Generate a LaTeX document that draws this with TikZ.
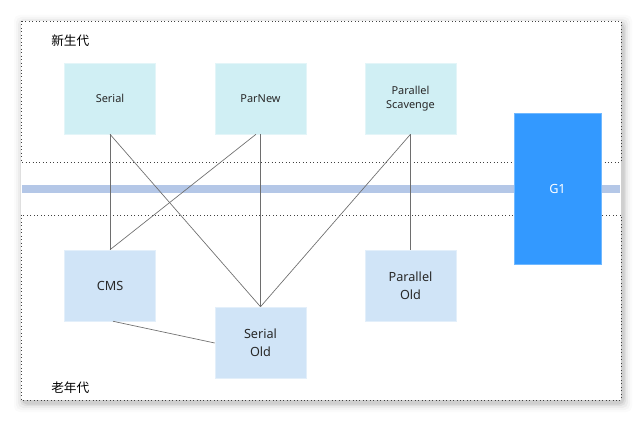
\documentclass[tikz,border=0pt]{standalone}
\usepackage{fontspec}
\setmainfont{Noto Sans}
\newfontfamily\cjk{Noto Sans CJK SC}
\begin{document}
\begin{tikzpicture}[x=0.75pt,y=-0.75pt,
  young/.style={fill=cyanbox,draw=cyanbox!60!white,line width=0.4pt,inner sep=0pt,align=center,text=txt},
  old/.style={fill=bluebox,draw=bluebox!60!white,line width=0.4pt,inner sep=0pt,align=center,text=txt},
  link/.style={draw=linec,line width=0.5pt},
  frame/.style={draw=black!75,dotted,line width=0.6pt},
  lbl/.style={font=\cjk\fontsize{9.5pt}{11pt}\selectfont,text=black,inner sep=0pt}]
\definecolor{cyanbox}{RGB}{208,239,244}
\definecolor{bluebox}{RGB}{208,228,247}
\definecolor{barc}{RGB}{180,199,231}
\definecolor{gonec}{RGB}{51,153,255}
\definecolor{linec}{RGB}{110,110,110}
\definecolor{txt}{RGB}{40,40,40}
\useasboundingbox (0,0) rectangle (643,424);
\fill[white] (0,0) rectangle (643,424);
% shadow
\foreach \i/\o in {9/0.015,7/0.025,5/0.035,3/0.05,1.5/0.07}{
  \fill[black,opacity=\o,rounded corners=4pt] (21-\i+2,21-\i+3) rectangle (621+\i+2,400+\i+3);
}
\fill[white] (21,21) rectangle (621,400);
% frames
\draw[frame] (21,21) rectangle (621,162);
\draw[frame] (21,215) rectangle (621,400);
% bar
\fill[barc] (22,185) rectangle (620,193);
% labels
\node[lbl,anchor=west] (yg) at (51,41) {新生代};
\node[lbl,anchor=west] (og) at (51,388) {老年代};
% boxes
\node[young,minimum width=91*0.75pt,minimum height=71*0.75pt,font=\fontsize{8.2pt}{10pt}\selectfont] (serial) at (110,98.5) {Serial};
\node[young,minimum width=91*0.75pt,minimum height=71*0.75pt,font=\fontsize{8.2pt}{10pt}\selectfont] (parnew) at (260.5,98.5) {ParNew};
\node[young,minimum width=91*0.75pt,minimum height=71*0.75pt,font=\fontsize{8.2pt}{11pt}\selectfont] (ps) at (410.5,98.5) {Parallel\\Scavenge};
\node[fill=gonec,draw=gonec!70!white,minimum width=87*0.75pt,minimum height=151*0.75pt,inner sep=0pt,text=white,font=\fontsize{9.5pt}{11pt}\selectfont] (g1) at (557.5,188.5) {G1};
\node[old,minimum width=91*0.75pt,minimum height=71*0.75pt,font=\fontsize{9.5pt}{13pt}\selectfont] (cms) at (110,285.5) {CMS};
\node[old,minimum width=91*0.75pt,minimum height=71*0.75pt,font=\fontsize{9.5pt}{13.5pt}\selectfont] (so) at (260.5,342.5) {Serial\\Old};
\node[old,minimum width=91*0.75pt,minimum height=71*0.75pt,font=\fontsize{9.5pt}{13.5pt}\selectfont] (po) at (410.5,285.5) {Parallel\\Old};
% connectors
\draw[link] (serial.south) -- (cms.north);
\draw[link] (serial.south) -- (so.north);
\draw[link] ([xshift=-4.5*0.75pt]parnew.south) -- (cms.north);
\draw[link] (parnew.south) -- (so.north);
\draw[link] (ps.south) -- (so.north);
\draw[link] (ps.south) -- (po.north);
\draw[link] ([xshift=3*0.75pt]cms.south) -- ([yshift=-0.5*0.75pt]so.west);
\end{tikzpicture}
\end{document}
